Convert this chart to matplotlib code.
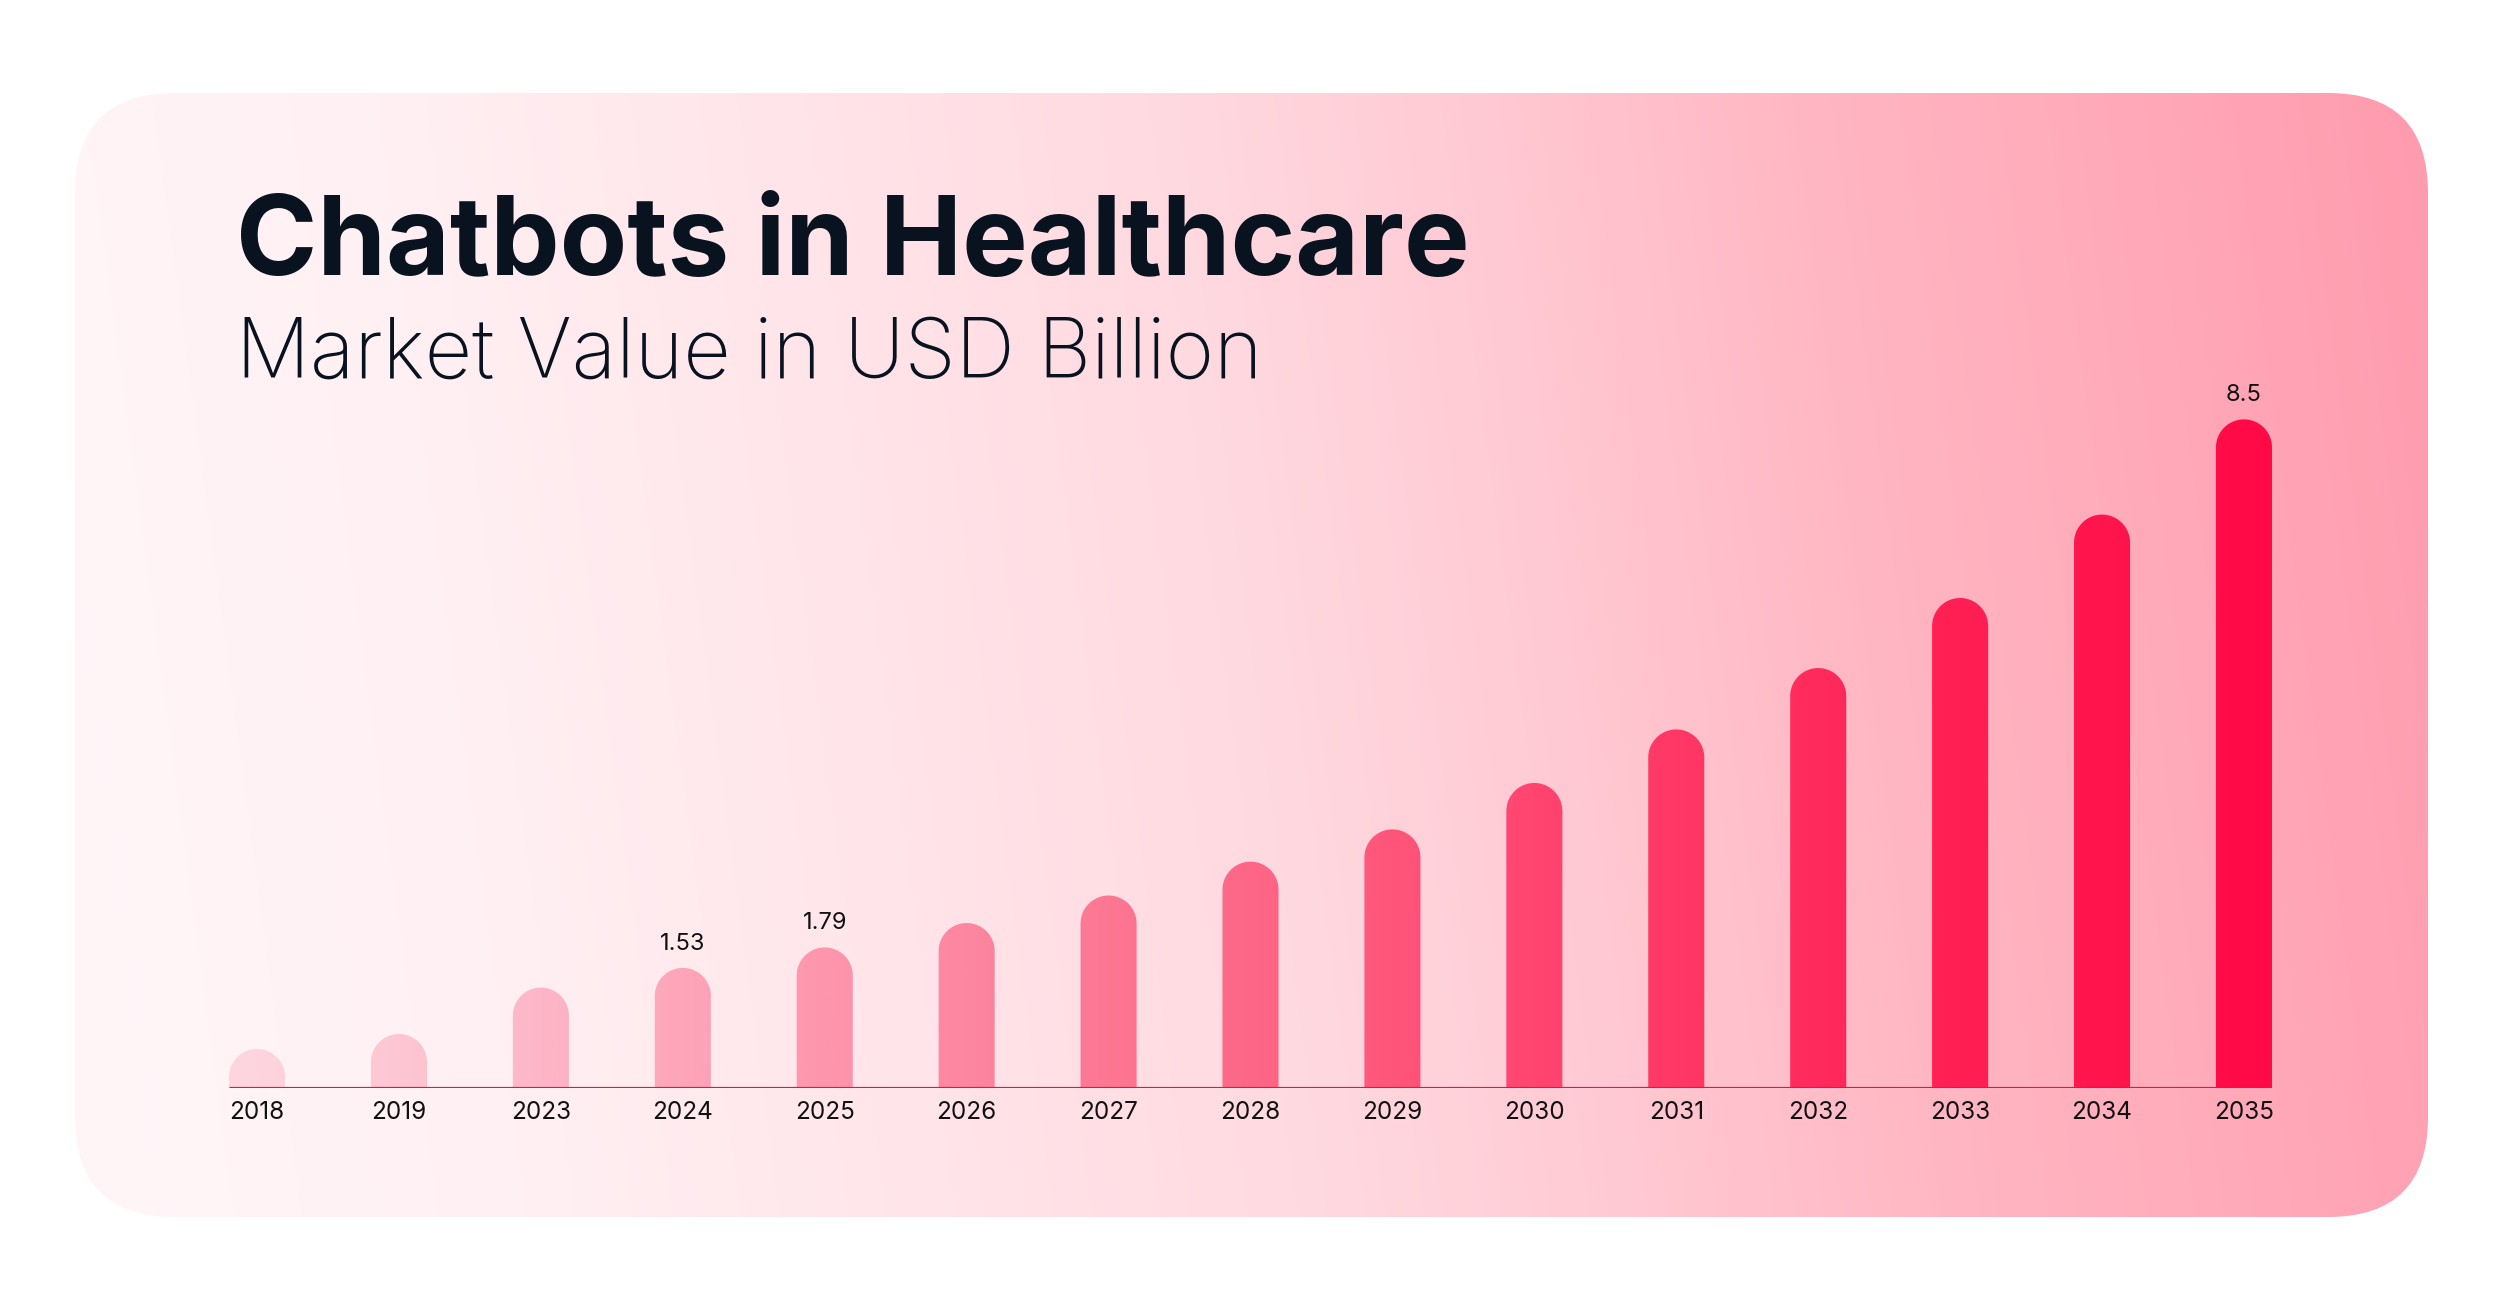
import numpy as np
import matplotlib
matplotlib.use("Agg")
import matplotlib.pyplot as plt
from matplotlib.patches import FancyBboxPatch, PathPatch
from matplotlib.path import Path
from matplotlib.colors import LinearSegmentedColormap, to_rgb

# ---------------- data ----------------
years = ["2018", "2019", "2023", "2024", "2025", "2026", "2027", "2028",
         "2029", "2030", "2031", "2032", "2033", "2034", "2035"]
values = [0.50, 0.69, 1.28, 1.53, 1.79, 2.10, 2.45, 2.88,
          3.29, 3.88, 4.56, 5.34, 6.23, 7.29, 8.50]
label_years = ["2024", "2025", "2035"]
label_texts = ["1.53", "1.79", "8.5"]

title = "Chatbots in Healthcare"
subtitle = "Market Value in USD Billion"

# ---------------- style ----------------
bar_colors = ["#fdd5de", "#fdc6d2", "#fdb6c7", "#fda5b9", "#fd96ad",
              "#fd86a0", "#fc7793", "#fd6787", "#ff557b", "#ff4570",
              "#ff3866", "#ff2a5c", "#ff1f53", "#ff154c", "#ff0a47"]
FONT = ["Inter", "Roboto", "DejaVu Sans"]
TEXT_DARK = "#08131f"

W, H, DPI = 2501, 1310, 100
fig = plt.figure(figsize=(W / DPI, H / DPI), dpi=DPI)
fig.patch.set_facecolor("white")

# background axes in pixel units (y downward)
bg = fig.add_axes([0, 0, 1, 1])
bg.set_xlim(0, W)
bg.set_ylim(H, 0)
bg.axis("off")

card_l, card_t, card_r, card_b = 75, 93, 2428, 1217
card = FancyBboxPatch((card_l, card_t), card_r - card_l, card_b - card_t,
                      boxstyle="round,pad=0,rounding_size=100",
                      fc="none", ec="none")
bg.add_patch(card)
gx = np.linspace(0, 1, 500)
gy = np.linspace(0, 1, 250)
GX, GY = np.meshgrid(gx, gy)
tt = np.clip(0.94 * GX + 0.06 * (1 - GY), 0, 1)
bg_cmap = LinearSegmentedColormap.from_list(
    "bg", [(0.0, "#fff6f8"), (0.18, "#fff0f3"), (0.35, "#ffe4e9"),
           (0.5, "#ffd9e0"), (0.63, "#ffc8d2"), (0.77, "#ffb4c1"),
           (0.9, "#ffa7b7"), (1.0, "#ff9bae")])
im_bg = bg.imshow(tt, cmap=bg_cmap, vmin=0, vmax=1,
                  extent=(card_l, card_r, card_b, card_t),
                  aspect="auto", interpolation="bilinear", zorder=0)
im_bg.set_clip_path(card)
bg.set_xlim(0, W)
bg.set_ylim(H, 0)

# ---------------- chart axes ----------------
n = len(years)
x_left_px, x_right_px = 229, 2272
base_px = 1088.3
px_per_unit_y = 78.7
ytop = 9.6
bar_w = 0.395

ax = fig.add_axes([x_left_px / W, (H - base_px) / H,
                   (x_right_px - x_left_px) / W, ytop * px_per_unit_y / H])
ax.set_xlim(-bar_w / 2, n - 1 + bar_w / 2)
ax.set_ylim(0, ytop)
ax.axis("off")
ax.patch.set_alpha(0)

px_per_unit_x = (x_right_px - x_left_px) / (n - 1 + bar_w)
ry = (bar_w / 2) * px_per_unit_x / px_per_unit_y

xs = np.arange(n)
paths = []
theta = np.linspace(0, np.pi, 40)
for x, v in zip(xs, values):
    top_c = v - ry
    verts = [(x - bar_w / 2, 0), (x + bar_w / 2, 0), (x + bar_w / 2, top_c)]
    verts += [(x + bar_w / 2 * np.cos(t), top_c + ry * np.sin(t)) for t in theta]
    verts += [(x - bar_w / 2, 0)]
    codes = [Path.MOVETO] + [Path.LINETO] * (len(verts) - 2) + [Path.CLOSEPOLY]
    paths.append(Path(verts, codes))
bars_path = Path.make_compound_path(*paths)
bars_patch = PathPatch(bars_path, transform=ax.transData, fc="none", ec="none")
ax.add_patch(bars_patch)

# horizontal gradient through bar colours (interpolated between bar centres)
gcols = np.linspace(-bar_w / 2, n - 1 + bar_w / 2, 1200)
rgb = np.array([to_rgb(c) for c in bar_colors])
grad = np.stack([np.interp(gcols, xs, rgb[:, k]) for k in range(3)], axis=-1)
grad = grad[np.newaxis, :, :]
im_bars = ax.imshow(grad, extent=(-bar_w / 2, n - 1 + bar_w / 2, 0, ytop),
                    aspect="auto", interpolation="bilinear", zorder=2)
im_bars.set_clip_path(bars_patch)
ax.set_xlim(-bar_w / 2, n - 1 + bar_w / 2)
ax.set_ylim(0, ytop)

ax.axhline(0, color="#ec1249", lw=2.3, zorder=5, solid_capstyle="butt")

for x, y in zip(xs, years):
    ax.annotate(y, (x, 0), xytext=(0, -30.7), textcoords="offset pixels",
                ha="center", va="baseline", fontsize=17.5, family=FONT,
                color="#111111", annotation_clip=False)

for ly, lt in zip(label_years, label_texts):
    i = years.index(ly)
    ax.annotate(lt, (i, values[i]), xytext=(0, 18), textcoords="offset pixels",
                ha="center", va="baseline", fontsize=17.0, family=FONT,
                color="#111111", annotation_clip=False)

# ---------------- titles ----------------
t1 = bg.text(236, 275, title, fontsize=74, fontweight="bold", family=FONT,
             color=TEXT_DARK, ha="left", va="baseline")
t2 = bg.text(236, 378, subtitle, fontsize=59, fontweight="light", family=FONT,
             color=TEXT_DARK, ha="left", va="baseline")
fig.canvas.draw()
r = fig.canvas.get_renderer()
for t, target in ((t1, 1234), (t2, 1026)):
    bb = t.get_window_extent(r)
    t.set_fontsize(t.get_fontsize() * target / bb.width)

fig.savefig("out.png", dpi=DPI, facecolor="white")
